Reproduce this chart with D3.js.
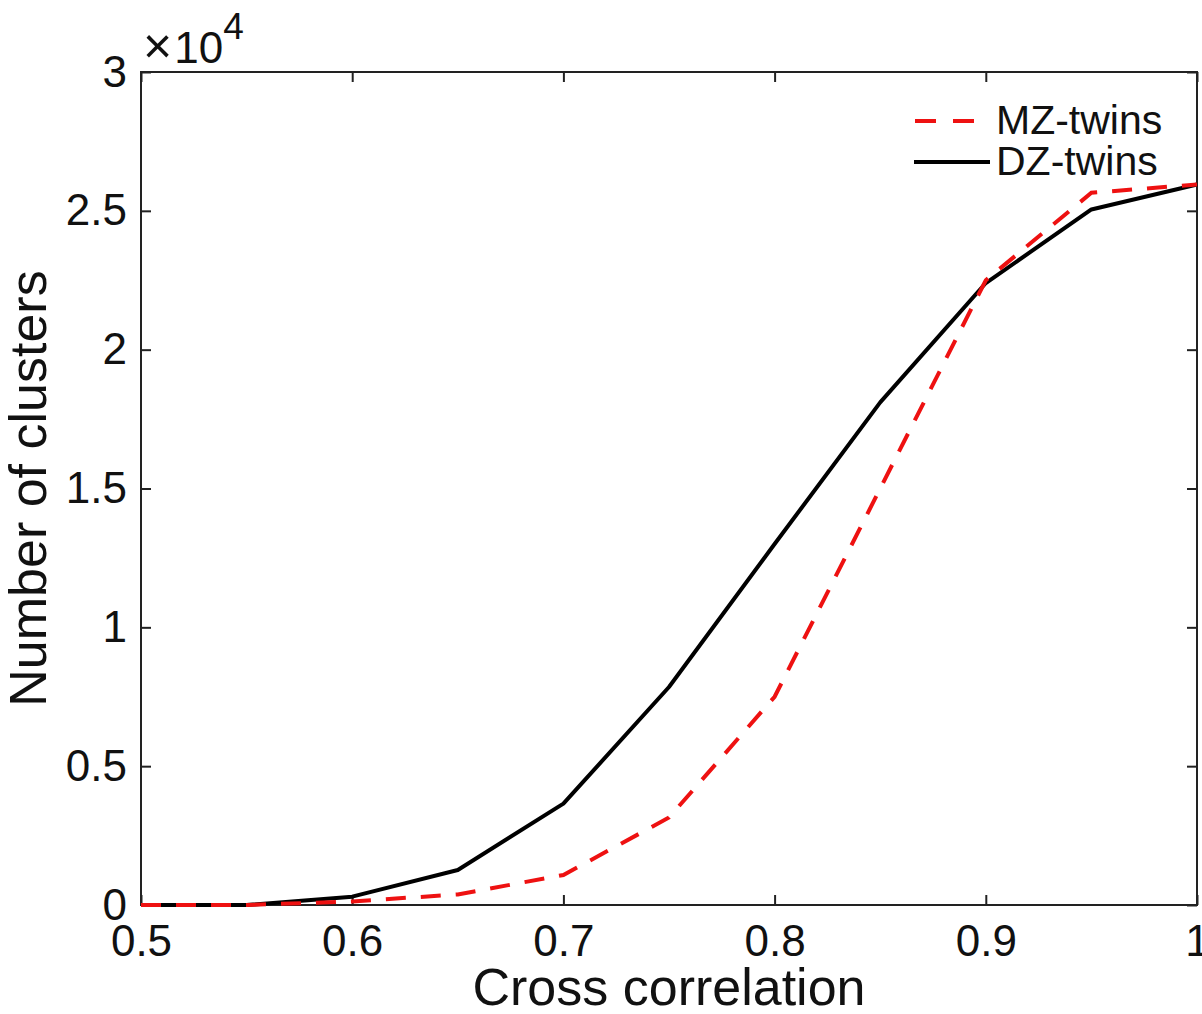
<!doctype html>
<html lang='en'>
  <head>
    <meta charset="utf-8">
    <script src="https://d3js.org/d3.v7.min.js"></script>
    <title>Number of clusters vs cross correlation</title>
  <style>
  body{
    margin: 0;
    background: white;
  }
  svg text {
    font-family: "Liberation Sans", Arial, Helvetica, sans-serif;
    fill: #111;
  }
  </style>
  </head>
    <body>
      <div id='chart'></div>
      <script>
      // values (x = cross correlation, y = number of clusters)
      const crossCorr = [0.5, 0.55, 0.6, 0.65, 0.7, 0.75, 0.8, 0.85, 0.9, 0.95, 1.0];
      const mzTwins = [0, 0, 130, 380, 1080, 3150, 7500, 15000, 22500, 25650, 25950];
      const dzTwins = [0, 0, 300, 1260, 3650, 7850, 13000, 18100, 22400, 25050, 25950];
      const xTicks = [0.5, 0.6, 0.7, 0.8, 0.9, 1];
      const yTicks = [0, 5000, 10000, 15000, 20000, 25000, 30000];
      const seriesNames = ['MZ-twins', 'DZ-twins'];

      const wsvg = 1202;
      const hsvg = 1014;
      const padL = 141, padR = 1197, padT = 72, padB = 905;

      const svg = d3.select('#chart')
                    .append('svg')
                    .attr('width', wsvg)
                    .attr('height', hsvg);

      const xScale = d3.scaleLinear()
                      .domain([0.5, 1])
                      .range([padL, padR]);

      const yScale = d3.scaleLinear()
                      .domain([0, 30000])
                      .range([padB, padT]);

      const fmtX = d => d === 1 ? '1' : d3.format('.1f')(d);
      const fmtY = d => d === 0 ? '0' : String(d / 10000);

      // bottom and left axes with labels, ticks pointing inward
      svg.append('g')
          .attr('transform', 'translate(0,' + padB + ')')
          .call(d3.axisBottom(xScale).tickValues(xTicks).tickFormat(fmtX)
                .tickSizeInner(-10).tickSizeOuter(0).tickPadding(20));

      svg.append('g')
          .attr('transform', 'translate(' + padL + ',0)')
          .call(d3.axisLeft(yScale).tickValues(yTicks).tickFormat(fmtY)
                .tickSizeInner(-10).tickSizeOuter(0).tickPadding(14));

      // top and right, ticks only
      svg.append('g')
          .attr('transform', 'translate(0,' + padT + ')')
          .call(d3.axisTop(xScale).tickValues(xTicks).tickFormat('')
                .tickSizeInner(-10).tickSizeOuter(0));

      svg.append('g')
          .attr('transform', 'translate(' + padR + ',0)')
          .call(d3.axisRight(yScale).tickValues(yTicks).tickFormat('')
                .tickSizeInner(-10).tickSizeOuter(0));

      svg.selectAll('.domain').remove();
      svg.selectAll('.tick line').attr('stroke', '#222').attr('stroke-width', 2);
      svg.selectAll('.tick text').style('font-size', '44px').attr('fill', '#111');

      svg.append('rect')
          .attr('x', padL)
          .attr('y', padT)
          .attr('width', padR - padL)
          .attr('height', padB - padT)
          .attr('fill', 'none')
          .attr('stroke', '#222')
          .attr('stroke-width', 2);

      // exponent label
      const expo = svg.append('text')
          .attr('x', 143)
          .attr('y', 63)
          .style('font-size', '44px');
      expo.append('tspan').style('font-size', '50px').text('\u00d7');
      expo.append('tspan').attr('dx', 2).text('10');
      expo.append('tspan').attr('dy', -24).style('font-size', '37px').text('4');

      const line = d3.line()
          .x((d, i) => xScale(crossCorr[i]))
          .y(d => yScale(d));

      svg.append('path')
          .datum(dzTwins)
          .attr('d', line)
          .attr('fill', 'none')
          .attr('stroke', 'black')
          .attr('stroke-width', 4)
          .attr('stroke-linejoin', 'round');

      svg.append('path')
          .datum(mzTwins)
          .attr('d', line)
          .attr('fill', 'none')
          .attr('stroke', '#ee1111')
          .attr('stroke-width', 4)
          .attr('stroke-dasharray', '20,15');

      // legend
      const legend = svg.append('g');
      legend.append('line')
          .attr('x1', 915).attr('x2', 975)
          .attr('y1', 121).attr('y2', 121)
          .attr('stroke', '#ee1111')
          .attr('stroke-width', 4)
          .attr('stroke-dasharray', '21,17');
      legend.append('line')
          .attr('x1', 914).attr('x2', 990)
          .attr('y1', 162).attr('y2', 162)
          .attr('stroke', 'black')
          .attr('stroke-width', 4);
      legend.selectAll('text.lab')
          .data(seriesNames)
          .enter()
          .append('text')
          .attr('class', 'lab')
          .attr('x', 996)
          .attr('y', (d, i) => 134 + i * 41)
          .style('font-size', '41px')
          .text(d => d);

      // axis titles
      svg.append('text')
          .attr('x', (padL + padR) / 2)
          .attr('y', 1005)
          .attr('text-anchor', 'middle')
          .style('font-size', '52px')
          .text('Cross correlation');

      svg.append('text')
          .attr('transform', 'translate(46,' + (padT + padB) / 2 + ') rotate(-90)')
          .attr('text-anchor', 'middle')
          .style('font-size', '52px')
          .text('Number of clusters');
      </script>
  </body>
</html>
